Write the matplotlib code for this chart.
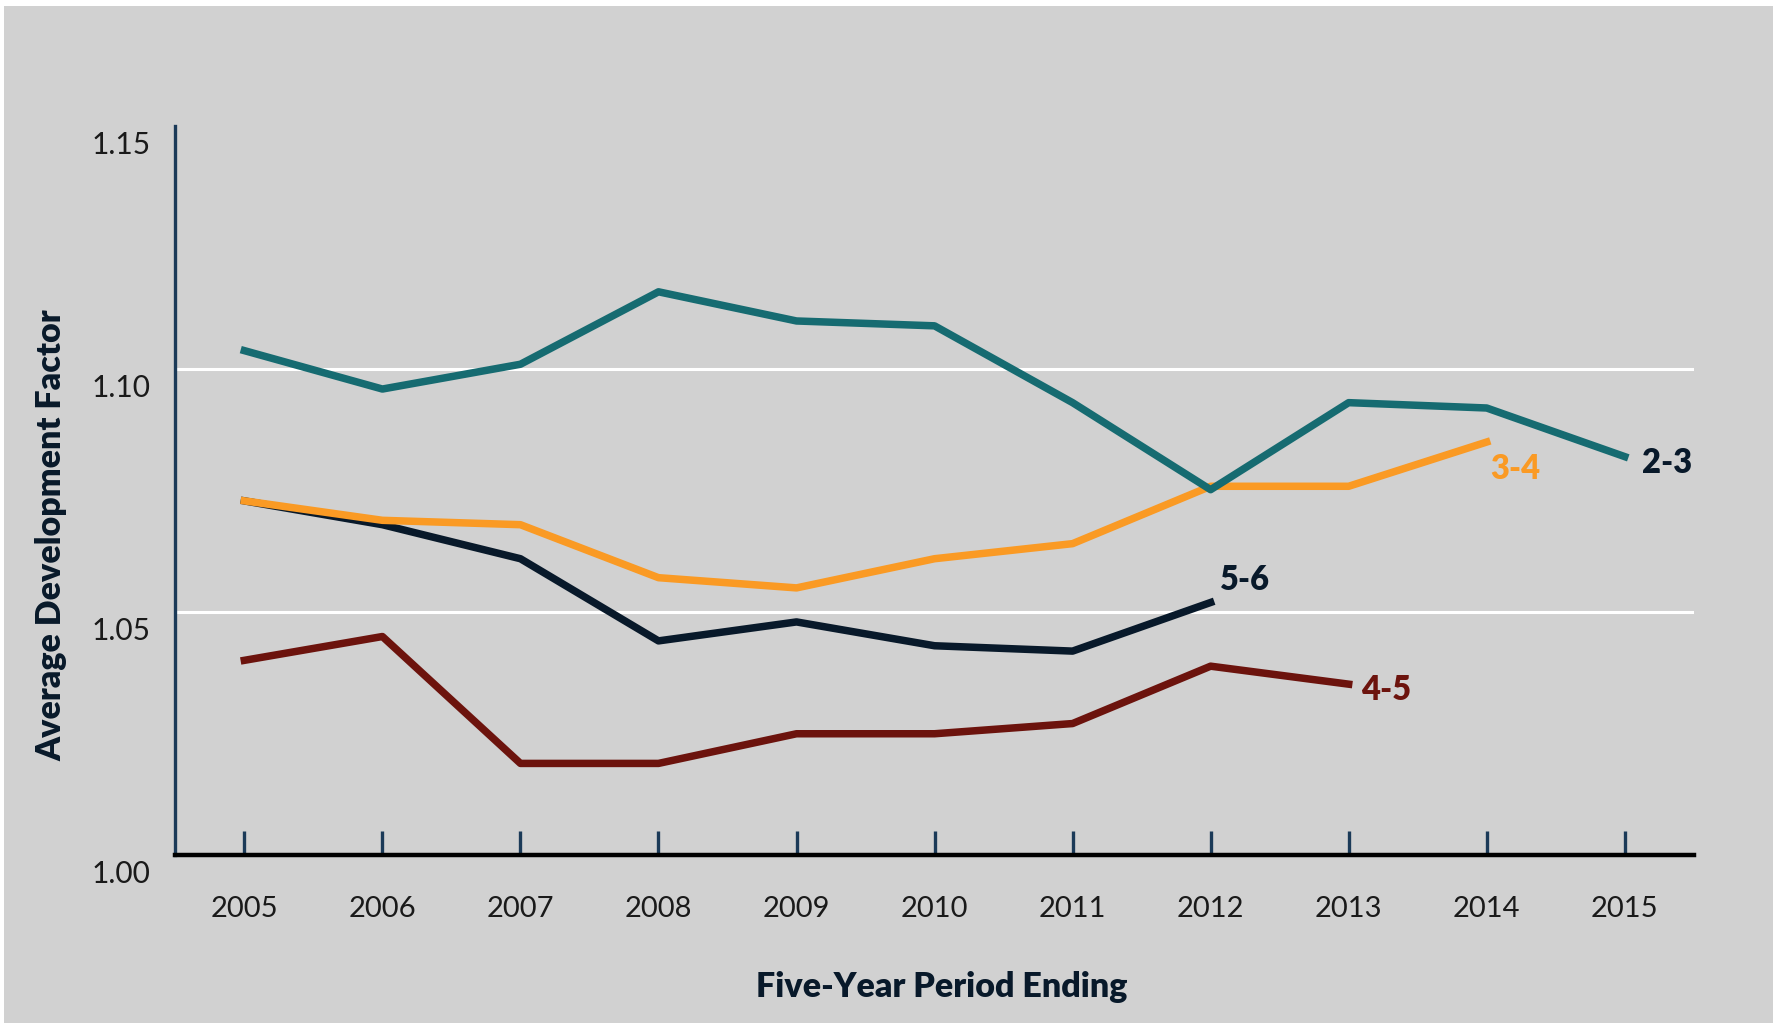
import matplotlib.pyplot as plt
import matplotlib.patches as mpatches
from matplotlib.transforms import ScaledTranslation

years = [2005, 2006, 2007, 2008, 2009, 2010, 2011, 2012, 2013, 2014, 2015]
f23 = [1.1037, 1.0958, 1.1009, 1.1158, 1.1098, 1.1088, 1.0930, 1.0751, 1.0930, 1.0919, 1.0819]
f34 = [1.0728, 1.0688, 1.0679, 1.0570, 1.0549, 1.0609, 1.0640, 1.0758, 1.0758, 1.0849]
f56 = [1.0728, 1.0679, 1.0609, 1.0440, 1.0479, 1.0430, 1.0419, 1.0519]
f45 = [1.0400, 1.0449, 1.0188, 1.0188, 1.0249, 1.0249, 1.0270, 1.0388, 1.0351]
yticks = [1.00, 1.05, 1.10, 1.15]

bg = '#d1d1d1'
teal = '#166b71'
orange = '#fa9a24'
dark = '#08192a'
red = '#6c130d'
navy = '#1b3a58'

fig = plt.figure(figsize=(17.73, 10.23), dpi=100, facecolor='white')
fig.patches.append(mpatches.Rectangle((4 / 1773, 0), 1, 1 - 6 / 1023, transform=fig.transFigure,
                                      facecolor=bg, edgecolor='none', zorder=-10))
ax = fig.add_axes([0.0989, 0.1644, 0.8564, 0.7129])
ax.set_facecolor(bg)
ax.patch.set_alpha(0)

ax.set_xlim(2004.5, 2015.5)
ax.set_ylim(1.00, 1.15)

for yv in [1.05, 1.10]:
    ax.axhline(yv, color='white', lw=2.2, zorder=1)

lw = 5.4
ax.plot(years[:len(f45)], f45, color=red, lw=lw, zorder=3)
ax.plot(years[:len(f56)], f56, color=dark, lw=lw, zorder=3)
ax.plot(years[:len(f34)], f34, color=orange, lw=lw, zorder=4)
ax.plot(years, f23, color=teal, lw=lw, zorder=5)

lab = dict(fontsize=23.5, fontweight='heavy', family='Lato')
ax.annotate('2-3', (years[len(f23) - 1], f23[-1]), xytext=(17, -6), textcoords='offset pixels',
            color=dark, va='center', ha='left', **lab)
ax.annotate('3-4', (years[len(f34) - 1], f34[-1]), xytext=(4, -27), textcoords='offset pixels',
            color=orange, va='center', ha='left', **lab)
ax.annotate('5-6', (years[len(f56) - 1], f56[-1]), xytext=(9, 22), textcoords='offset pixels',
            color=dark, va='center', ha='left', **lab)
ax.annotate('4-5', (years[len(f45) - 1], f45[-1]), xytext=(12, -6), textcoords='offset pixels',
            color=red, va='center', ha='left', **lab)

for s in ['top', 'right']:
    ax.spines[s].set_visible(False)
ax.spines['left'].set_color(navy)
ax.spines['left'].set_linewidth(2.4)
ax.spines['bottom'].set_color('black')
ax.spines['bottom'].set_linewidth(3.2)

ax.set_xticks(years)
ax.set_xticklabels([str(y) for y in years], fontsize=21, family='Lato', fontweight='normal', color='#1a1a1a')
ax.tick_params(axis='x', direction='in', length=17, width=2.4, color=navy, pad=30)
ax.set_yticks(yticks)
ax.set_yticklabels(['%.2f' % v for v in yticks], fontsize=21.5, family='Lato', fontweight='normal', color='#1a1a1a')
ax.tick_params(axis='y', length=0, pad=18)
for t in ax.get_yticklabels():
    t.set_transform(t.get_transform() + ScaledTranslation(0, -0.17, fig.dpi_scale_trans))

fig.text(942 / 1773, 1 - 987 / 1023, 'Five-Year Period Ending', ha='center', va='center',
         fontsize=24.5, fontweight='heavy', family='Lato', color=dark)
fig.text(51 / 1773, 1 - 535 / 1023, 'Average Development Factor', ha='center', va='center',
         rotation=90, fontsize=24.5, fontweight='heavy', family='Lato', color=dark)

fig.savefig('out.png', dpi=100, facecolor=fig.get_facecolor())
